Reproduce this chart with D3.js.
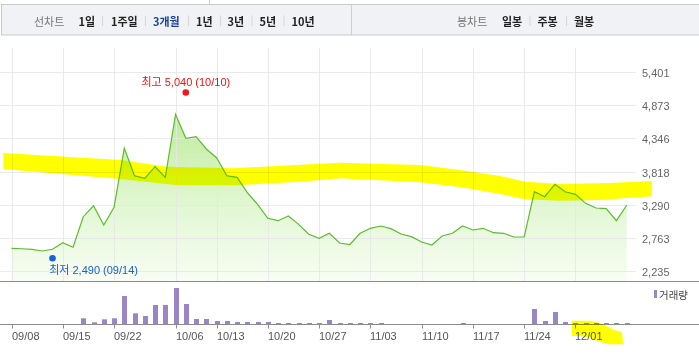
<!DOCTYPE html>
<html><head><meta charset="utf-8">
<script src="https://cdn.jsdelivr.net/npm/d3@7/dist/d3.min.js"></script>
<style>html,body{margin:0;padding:0;background:#fff;overflow:hidden}svg{display:block}</style>
</head><body><svg id="c" width="699" height="357"></svg>
<script>
// ---- data ----
const closes = [2600,2593,2584,2557,2584,2689,2616,3101,3275,2969,
                3250,4186,3751,3710,3894,3726,4725,4344,4370,4175,
                4037,3751,3726,3482,3298,3076,3038,3112,2980,2822,
                2758,2838,2684,2660,2838,2917,2953,2911,2827,2784,
                2700,2652,2795,2838,2953,2890,2917,2847,2838,2779,
                2779,3497,3418,3615,3497,3456,3313,3239,3228,3038,3282];
const volumes = [0,0,0,0,0,0,0,158,47,130,
                 158,778,297,222,528,528,1000,556,139,139,
                 83,83,56,56,56,56,28,28,28,28,
                 28,111,28,28,28,28,28,0,0,0,
                 0,0,0,0,28,0,0,0,0,0,
                 0,417,83,333,56,28,28,28,28,28,28];
const tickIndex = [0,5,10,16,20,25,30,35,40,45,50,55];
const tickLabels = ["09/08","09/15","09/22","10/06","10/13","10/20","10/27","11/03","11/10","11/17","11/24","12/01"];
const yTicks = [2235,2763,3290,3818,4346,4873,5401];
const lineButtons = ["1일","1주일","3개월","1년","3년","5년","10년"];
const selectedButton = "3개월";
const candleButtons = ["일봉","주봉","월봉"];
const highPoint = {index:17, value:5040, label:"최고 5,040 (10/10)"};
const lowPoint = {index:4, value:2490, label:"최저 2,490 (09/14)"};
const legendLabel = "거래량";
// highlighter annotation, in (index, price) space
const markerTop = [[-0.79,4111],[10.62,4000],[15.2,3894],[21.63,3869],[32.05,3957],[39.85,3921],[43.75,3842],[47.65,3746],[50.09,3656],[53.5,3620],[58.37,3635],[62.46,3667]];
const markerBottom = [[62.46,3425],[60.32,3402],[57.4,3366],[53.5,3355],[50.09,3377],[47.65,3461],[43.75,3572],[39.85,3647],[32.05,3710],[28.16,3656],[22.31,3604],[15.97,3604],[10.62,3699],[-0.79,3857]];
// second highlighter stroke, (index, px offset from volume baseline)
const marker2 = [[54.64,-3.3],[56.42,-3.3],[57.2,-1.3],[57.43,-0.7],[59.03,7],[59.51,7.7],[59.67,20.3],[58.21,20.3],[57.56,18.3],[56.91,16],[56.42,13.7],[55.61,12],[54.64,12]];

// ---- layout ----
const W = 699, H = 357;
const svg = d3.select("#c");
const FONT = "'Liberation Sans', Arial, 'Noto Sans CJK KR', sans-serif";
svg.append("rect").attr("width",W).attr("height",H).attr("fill","#fff");

// toolbar
svg.append("line").attr("x1",209.5).attr("x2",209.5).attr("y1",0).attr("y2",4).attr("stroke","#c8c8c8");
svg.append("rect").attr("x",1.5).attr("y",4.5).attr("width",W+5).attr("height",30.5)
  .attr("fill","#f0f2f5").attr("stroke","#c9c9c9");
svg.append("line").attr("x1",351.5).attr("x2",351.5).attr("y1",5).attr("y2",35).attr("stroke","#cfcfcf");
const tb = svg.append("g").attr("font-family","'Noto Sans CJK KR', sans-serif").attr("font-size",11);
const tbY = 21;
tb.append("text").attr("x",34).attr("y",tbY).attr("dominant-baseline","central").attr("fill","#777").text("선차트");
const lineX = [78.5,111,153,196,227.5,259.5,291.5];
const sepX1 = [102.5,145.5,188.5,220.5,252,284];
lineButtons.forEach((t,i)=>{
  tb.append("text").attr("x",lineX[i]).attr("y",tbY).attr("dominant-baseline","central")
    .attr("font-weight","bold").attr("fill", t===selectedButton ? "#1d3fa0" : "#222").text(t);
});
sepX1.forEach(x=>tb.append("line").attr("x1",x).attr("x2",x).attr("y1",15.5).attr("y2",26).attr("stroke","#d6d6d6"));
tb.append("text").attr("x",457).attr("y",tbY).attr("dominant-baseline","central").attr("fill","#777").text("봉차트");
const candX = [502,537.5,574];
candleButtons.forEach((t,i)=>{
  tb.append("text").attr("x",candX[i]).attr("y",tbY).attr("dominant-baseline","central")
    .attr("font-weight","bold").attr("fill","#222").text(t);
});
[530,566.5].forEach(x=>tb.append("line").attr("x1",x).attr("x2",x).attr("y1",15.5).attr("y2",26).attr("stroke","#d6d6d6"));

// scales
const x = d3.scaleLinear().domain([0, closes.length-1]).range([11.5, 626.7]);
const y = d3.scaleLinear().domain([2235, 5401]).range([271.3, 71.7]);
const priceBottom = 281, priceTop = 48, gridRight = 636;
const volBase = 324;
const vy = d3.scaleLinear().domain([0, d3.max(volumes)]).range([volBase, 288]);

// gradient
const defs = svg.append("defs");
const g = defs.append("linearGradient").attr("id","af").attr("gradientUnits","userSpaceOnUse")
  .attr("x1",0).attr("x2",0).attr("y1",110).attr("y2",priceBottom);
g.append("stop").attr("offset",0).attr("stop-color","#bdeb99");
g.append("stop").attr("offset",0.55).attr("stop-color","#e1f7d2");
g.append("stop").attr("offset",1).attr("stop-color","#f8fdf4");

// area
const area = d3.area().x((d,i)=>x(i)).y0(priceBottom).y1(d=>y(d));
svg.append("path").datum(closes).attr("d",area).attr("fill","url(#af)");

// grid
const grid = svg.append("g");
yTicks.forEach(v=>{
  grid.append("line").attr("x1",0).attr("x2",gridRight).attr("y1",Math.round(y(v))+0.5).attr("y2",Math.round(y(v))+0.5)
    .attr("stroke","#e6e6e6").attr("stroke-opacity",0.85);
});
tickIndex.forEach(i=>{
  grid.append("line").attr("x1",Math.round(x(i))+0.5).attr("x2",Math.round(x(i))+0.5).attr("y1",priceTop).attr("y2",priceBottom)
    .attr("stroke","#e6e6e6").attr("stroke-opacity",0.85);
});

// line
const line = d3.line().x((d,i)=>x(i)).y(d=>y(d));
svg.append("path").datum(closes).attr("d",line).attr("fill","none").attr("stroke","#5cbd2c").attr("stroke-width",1.2);

// y labels
const yl = svg.append("g").attr("font-family",FONT).attr("font-size",11).attr("fill","#666");
yTicks.forEach(v=>{
  yl.append("text").attr("x",642).attr("y",y(v)+1).attr("dominant-baseline","central").text(d3.format(",")(v));
});

// high / low markers
svg.append("circle").attr("cx",x(highPoint.index)).attr("cy",y(highPoint.value)-2).attr("r",3.3).attr("fill","#f01818");
svg.append("text").attr("x",x(highPoint.index)).attr("y",82).attr("text-anchor","middle").attr("dominant-baseline","central")
  .attr("font-family",FONT).attr("font-size",11).attr("fill","#ee1111").text(highPoint.label);
svg.append("circle").attr("cx",x(lowPoint.index)).attr("cy",y(lowPoint.value)+3).attr("r",3.3).attr("fill","#1a62d4");
svg.append("text").attr("x",x(lowPoint.index)-3.3).attr("y",269.5).attr("dominant-baseline","central")
  .attr("font-family",FONT).attr("font-size",11).attr("fill","#1a5fcf").text(lowPoint.label);

// panel borders
svg.append("line").attr("x1",0).attr("x2",W).attr("y1",priceBottom+0.5).attr("y2",priceBottom+0.5).attr("stroke","#8c8c8c");
// volume bars
svg.append("g").selectAll("rect").data(volumes).join("rect")
  .attr("x",(d,i)=>Math.round(x(i))-2).attr("width",5)
  .attr("y",d=>vy(d)).attr("height",d=>volBase-vy(d)).attr("fill","#9a86c6");
svg.append("line").attr("x1",0).attr("x2",W).attr("y1",volBase+0.5).attr("y2",volBase+0.5).attr("stroke","#8c8c8c");
// x ticks
const xa = svg.append("g").attr("font-family",FONT).attr("font-size",11).attr("fill","#555");
tickIndex.forEach((i,k)=>{
  xa.append("line").attr("x1",Math.round(x(i))+0.5).attr("x2",Math.round(x(i))+0.5).attr("y1",volBase+1).attr("y2",volBase+4.5).attr("stroke","#8c8c8c");
  xa.append("text").attr("x",Math.round(x(i))).attr("y",336).attr("dominant-baseline","central").text(tickLabels[k]);
});
// legend
svg.append("rect").attr("x",654).attr("y",290).attr("width",3).attr("height",8).attr("fill","#9a86c6");
svg.append("text").attr("x",659).attr("y",294.5).attr("dominant-baseline","central")
  .attr("font-family","'Noto Sans CJK KR', sans-serif").attr("font-size",10.5).attr("fill","#444").text(legendLabel);

// highlighter annotations
const poly = markerTop.concat(markerBottom).map(p=>[x(p[0]), y(p[1])]);
svg.append("path").attr("d","M"+poly.map(p=>p.join(",")).join("L")+"Z")
  .attr("fill","#ffff00").style("mix-blend-mode","multiply");
const poly2 = marker2.map(p=>[x(p[0]), volBase+p[1]]);
svg.append("path").attr("d","M"+poly2.map(p=>p.join(",")).join("L")+"Z")
  .attr("fill","#ffff00").style("mix-blend-mode","multiply");
</script></body></html>
